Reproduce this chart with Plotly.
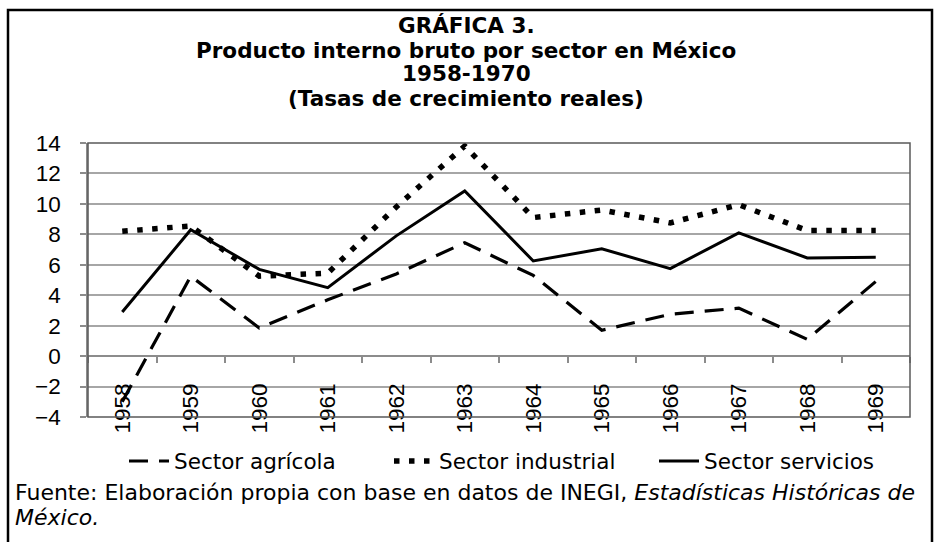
import plotly.graph_objects as go

years = ["1958", "1959", "1960", "1961", "1962", "1963", "1964", "1965", "1966", "1967", "1968", "1969"]
agricola = [-3.0, 5.25, 1.85, 3.7, 5.4, 7.45, 5.3, 1.7, 2.75, 3.15, 1.1, 4.9]
industrial = [8.2, 8.55, 5.25, 5.45, 9.8, 13.8, 9.1, 9.6, 8.75, 9.95, 8.25, 8.25]
servicios = [2.9, 8.3, 5.7, 4.5, 7.9, 10.85, 6.25, 7.05, 5.75, 8.1, 6.45, 6.5]
yticks = [-4, -2, 0, 2, 4, 6, 8, 10, 12, 14]
title_lines = ["GRÁFICA 3.", "Producto interno bruto por sector en México", "1958-1970",
               "(Tasas de crecimiento reales)"]

W, H = 935, 542
L, R, T, B = 88, 25, 143, 125
pw, ph = W - L - R, H - T - B

def px_x(p):
    return (p - L) / pw

def px_y(p):
    return (H - B - p) / ph

ARIAL = "Liberation Sans, Arial, sans-serif"
WIDE = "DejaVu Sans, Verdana, sans-serif"

fig = go.Figure()
fig.add_trace(go.Scatter(x=years, y=agricola, mode="lines", name="Sector agrícola",
                         line=dict(color="black", width=3.2, dash="19px,11px")))
fig.add_trace(go.Scatter(x=years, y=industrial, mode="lines", name="Sector industrial",
                         line=dict(color="black", width=5.5, dash="5.5px,9.5px")))
fig.add_trace(go.Scatter(x=years, y=servicios, mode="lines", name="Sector servicios",
                         line=dict(color="black", width=3)))
# empty trace to attach the label axis
fig.add_trace(go.Scatter(x=[], y=[], xaxis="x2", yaxis="y", showlegend=False, hoverinfo="skip"))

ymin, ymax = -4, 14
zero_pos = (0 - ymin) / (ymax - ymin)

fig.update_layout(
    width=W, height=H,
    margin=dict(l=L, r=R, t=T, b=B),
    paper_bgcolor="white", plot_bgcolor="white",
    font=dict(family=WIDE, color="black", size=20),
    xaxis=dict(
        type="category", categoryorder="array", categoryarray=years,
        range=[-0.5, 11.5],
        anchor="free", position=zero_pos,
        showline=True, linecolor="#8c8c8c", linewidth=1.5,
        ticks="outside", tickson="boundaries", ticklen=6, tickcolor="#8c8c8c", tickwidth=1.5,
        showticklabels=False, showgrid=False, zeroline=False,
    ),
    xaxis2=dict(
        overlaying="x", anchor="free", position=px_y(378),
        range=[-0.5, 11.5],
        tickmode="array", tickvals=list(range(len(years))), ticktext=years,
        tickangle=-90, ticks="", showline=False, showgrid=False, zeroline=False,
        tickfont=dict(family=ARIAL, size=22.5, color="black"),
    ),
    yaxis=dict(
        range=[ymin, ymax], tickvals=yticks,
        showgrid=True, gridcolor="#a6a6a6", gridwidth=1.5,
        zeroline=False,
        showline=True, linecolor="#8c8c8c", linewidth=1.5,
        ticks="outside", ticklen=6, tickcolor="#8c8c8c", tickwidth=1.5,
        ticklabelstandoff=15,
        tickfont=dict(family=ARIAL, size=22.5, color="black"),
    ),
    legend=dict(
        orientation="h", x=px_x(124), xanchor="left",
        y=px_y(461), yanchor="middle",
        font=dict(family=WIDE, size=21.5, color="black"),
        bgcolor="rgba(0,0,0,0)", itemwidth=40,
        entrywidth=210, entrywidthmode="pixels",
    ),
    showlegend=True,
)

# plot frame
fig.add_shape(type="rect", xref="paper", yref="paper", x0=0, x1=1, y0=0, y1=1,
              line=dict(color="#595959", width=1.5), fillcolor="rgba(0,0,0,0)", layer="above")
# outer border
fig.add_shape(type="rect", xref="paper", yref="paper",
              x0=px_x(8), x1=px_x(932), y0=px_y(548), y1=px_y(10),
              line=dict(color="black", width=2.5), fillcolor="rgba(0,0,0,0)")

title_y = [26, 50, 74, 98]
for txt, yy in zip(title_lines, title_y):
    fig.add_annotation(
        xref="paper", yref="paper", x=px_x(466), y=px_y(yy), xanchor="center", yanchor="middle",
        showarrow=False, text="<b>" + txt + "</b>",
        font=dict(family=WIDE, size=21.5, color="black"),
    )

fig.add_annotation(
    xref="paper", yref="paper", x=px_x(13), y=px_y(492), xanchor="left", yanchor="middle",
    align="left", showarrow=False,
    text="Fuente: Elaboración propia con base en datos de INEGI, <i>Estadísticas Históricas de</i>",
    font=dict(family=WIDE, size=22, color="black"),
)
fig.add_annotation(
    xref="paper", yref="paper", x=px_x(13), y=px_y(517), xanchor="left", yanchor="middle",
    align="left", showarrow=False, text="<i>México.</i>",
    font=dict(family=WIDE, size=22, color="black"),
)

fig.write_html("out.html", config={"displayModeBar": False},
               post_script="document.body.style.margin='0';")
